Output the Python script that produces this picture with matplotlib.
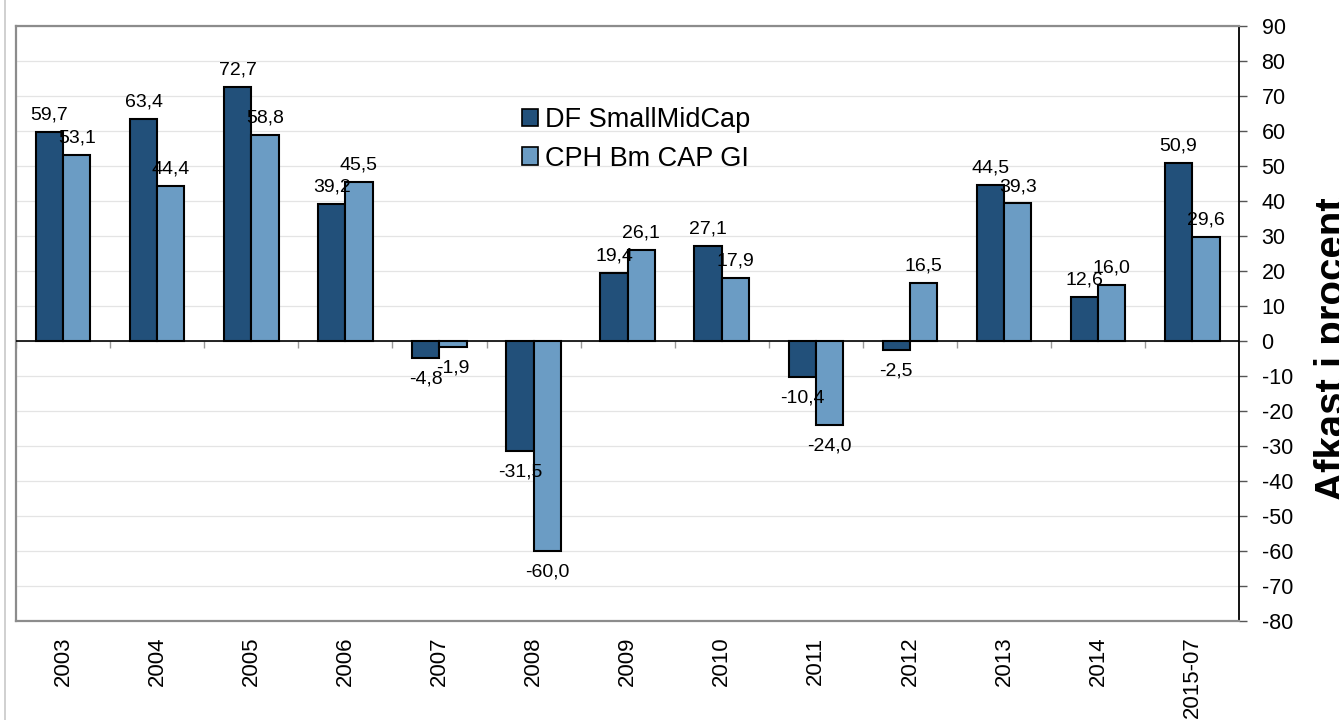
import numpy as np
import matplotlib.pyplot as plt
from matplotlib.patches import Patch
from matplotlib.lines import Line2D

plt.rcParams['font.family'] = ['Liberation Sans', 'DejaVu Sans']
plt.rcParams['axes.unicode_minus'] = False

years = ['2003', '2004', '2005', '2006', '2007', '2008', '2009',
         '2010', '2011', '2012', '2013', '2014', '2015-07']
df_smallmidcap = [59.7, 63.4, 72.7, 39.2, -4.8, -31.5, 19.4,
                  27.1, -10.4, -2.5, 44.5, 12.6, 50.9]
cph_bm_cap = [53.1, 44.4, 58.8, 45.5, -1.9, -60.0, 26.1,
              17.9, -24.0, 16.5, 39.3, 16.0, 29.6]
series_names = ['DF SmallMidCap', 'CPH Bm CAP GI']

dark = '#22507a'
light = '#6b9cc4'
W, H = 1339, 720

fig = plt.figure(figsize=(W / 100, H / 100), dpi=100)
ax = fig.add_axes([16 / W, 1 - 620.7 / H, (1239.3 - 16) / W, (620.7 - 26) / H])

x = np.arange(len(years))
bw = 0.29
b1 = ax.bar(x - bw / 2, df_smallmidcap, bw, color=dark, edgecolor='black', linewidth=1.5, zorder=3)
b2 = ax.bar(x + bw / 2, cph_bm_cap, bw, color=light, edgecolor='black', linewidth=1.5, zorder=3)

# data labels with comma decimals
for bars, vals in [(b1, df_smallmidcap), (b2, cph_bm_cap)]:
    for r, v in zip(bars, vals):
        txt = f'{v:.1f}'.replace('.', ',')
        cx = r.get_x() + r.get_width() / 2
        if v >= 0:
            ax.annotate(txt, (cx, v), xytext=(0, 6), textcoords='offset points',
                        ha='center', va='bottom', fontsize=14, zorder=5)
        else:
            ax.annotate(txt, (cx, v), xytext=(0, -9), textcoords='offset points',
                        ha='center', va='top', fontsize=14, zorder=5)

ax.set_xlim(-0.5, len(years) - 0.5)
ax.set_ylim(-80, 90)
ax.set_yticks(np.arange(-80, 91, 10))
ax.yaxis.tick_right()
ax.tick_params(axis='y', length=6, width=1, color='#555555', pad=10, labelsize=15.5)
ax.set_xticks(x)
ax.set_xticklabels(years, rotation=90, fontsize=16)
ax.tick_params(axis='x', length=0, pad=11.5)

ax.grid(axis='y', color='#e4e4e4', linewidth=0.9, zorder=0)
ax.axhline(0, color='black', linewidth=1.2, zorder=4)
# small category ticks on the zero line
ax.vlines(np.arange(len(years) + 1) - 0.5, -2, 0, color='#9a9a9a', linewidth=1, zorder=2)

for s in ['left', 'top', 'bottom']:
    ax.spines[s].set_color('#8c8c8c')
    ax.spines[s].set_linewidth(1.6)
ax.spines['right'].set_color('black')
ax.spines['right'].set_linewidth(1.3)

handles = [Patch(facecolor=dark, edgecolor='black', linewidth=1.2),
           Patch(facecolor=light, edgecolor='black', linewidth=1.2)]
fig.legend(handles, series_names, loc='center left',
           bbox_to_anchor=(522 / W, 1 - 139.5 / H), frameon=False,
           fontsize=19.5, handlelength=0.6, handleheight=0.6,
           handletextpad=0.25, labelspacing=0.45, borderpad=0, borderaxespad=0)

fig.text(1314 / W, 1 - 349 / H, 'Afkast i procent', rotation=90, ha='left', va='center',
         fontsize=29, fontweight='bold', family=['Liberation Sans Narrow', 'Liberation Sans'])

fig.add_artist(Line2D([4.5 / W, 4.5 / W], [0, 1], color='#c8c8c8', linewidth=1.2))

fig.savefig('out.png', dpi=100)
